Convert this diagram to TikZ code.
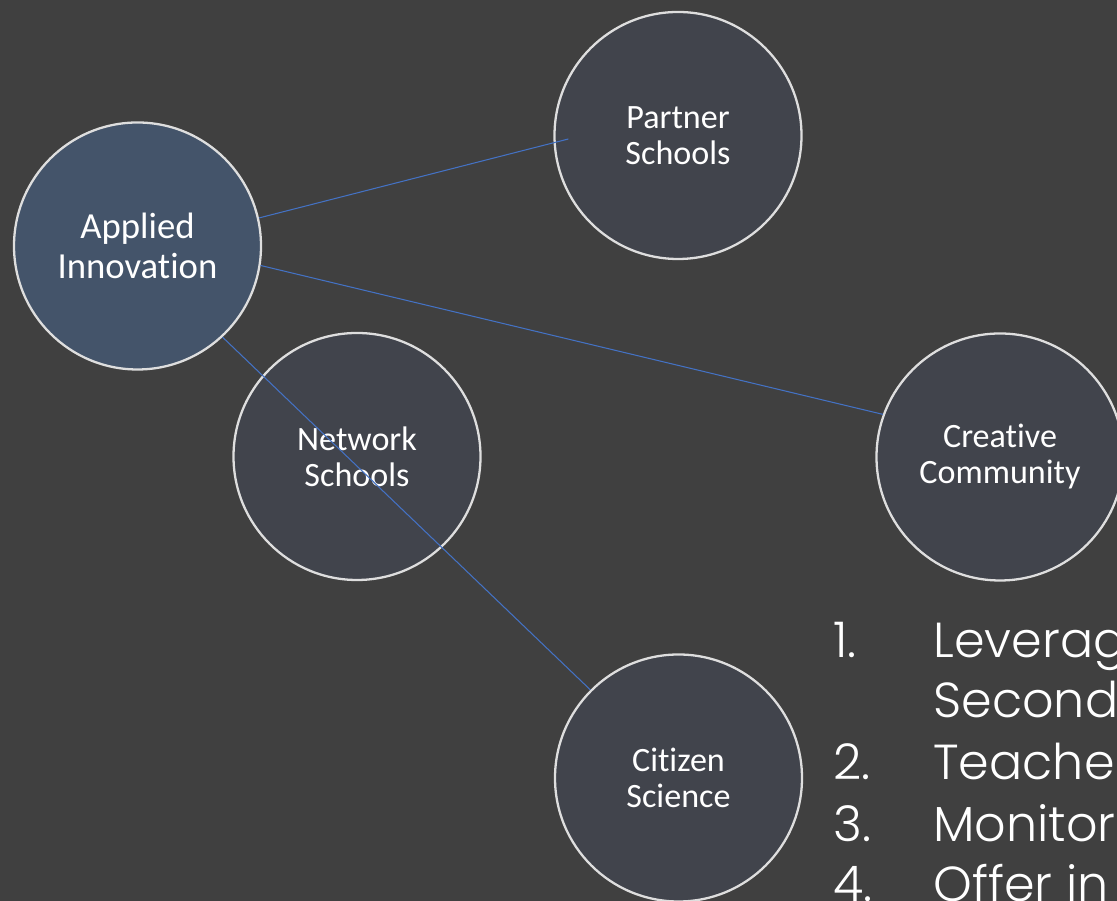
\documentclass[tikz,border=0pt]{standalone}
\usepackage{fontspec}
\setmainfont{Carlito}[Ligatures=NoCommon]
\newfontfamily\listfont{Poppins Light}
\usetikzlibrary{positioning}
\definecolor{slide}{RGB}{64,64,64}
\definecolor{disc}{RGB}{65,68,76}
\definecolor{hub}{RGB}{68,84,106}
\definecolor{rim}{RGB}{222,222,222}
\definecolor{link}{RGB}{68,114,196}
\tikzstyle{bubble} = [circle, draw=rim, line width=1.3pt, fill=disc,
  minimum size=4.94cm, inner sep=0pt, align=center, text=white,
  font=\fontsize{19.4}{20.5}\selectfont]
\tikzstyle{connector} = [draw=link, line width=0.6pt]
\tikzstyle{listitem} = [anchor=base west, inner sep=0pt, text=white,
  font=\listfont\fontsize{28}{34}\selectfont]

\begin{document}
\begin{tikzpicture}
  \clip (0, 0) rectangle (22.34, 18.02);
  \fill[slide] (0, 0) rectangle (22.34, 18.02);

  \node[bubble, fill=hub, font=\fontsize{20.9}{22.8}\selectfont] (app) at (2.75, 13.10) {Applied\\Innovation};
  \node[bubble] (par) at (13.56, 15.31) {Partner\\Schools};
  \node[bubble] (net) at (7.14, 8.89) {Network\\Schools};
  \node[bubble] (cre) at (20.0, 8.88) {Creative\\Community};
  \node[bubble] (cit) at (13.57, 2.46) {Citizen\\Science};

  \draw[connector] (app.13) -- ([shift={(0.3, -0.07)}]par.west);
  \draw[connector] (app.-9) -- (cre.160);
  \draw[connector] (app.-47) -- (cit.135);

  \node[listitem] (num1) at (16.66, 4.86) {1.};
  \node[listitem] (item1) at (18.66, 4.86) {Leverag};
  \node[listitem] (item1b) at (18.66, 3.66) {Second};
  \node[listitem] (num2) at (16.66, 2.42) {2.};
  \node[listitem] (item2) at (18.66, 2.42) {Teacher};
  \node[listitem] (num3) at (16.66, 1.18) {3.};
  \node[listitem] (item3) at (18.66, 1.18) {Monitor};
  \node[listitem] (num4) at (16.66, -0.02) {4.};
  \node[listitem] (item4) at (18.66, -0.02) {Offer in};
\end{tikzpicture}
\end{document}
